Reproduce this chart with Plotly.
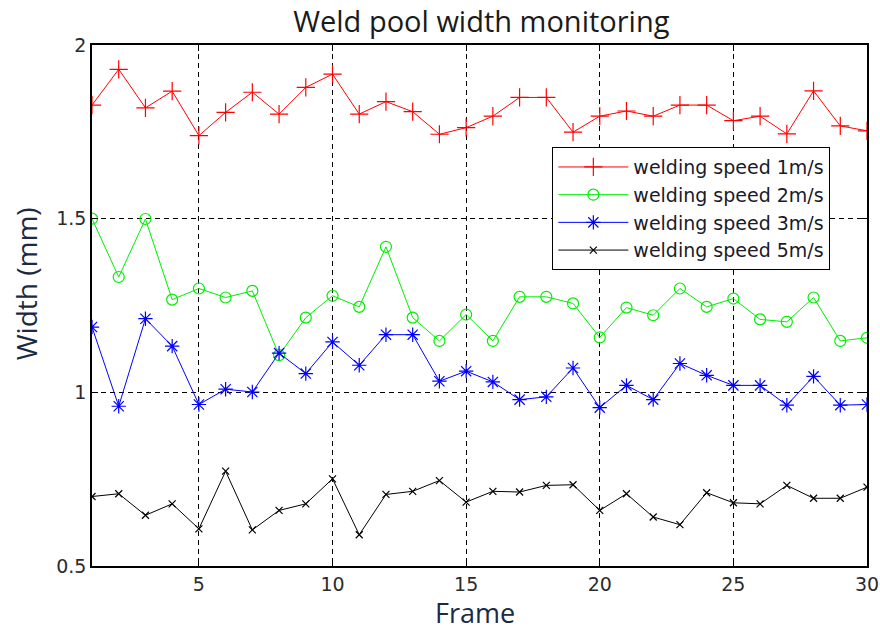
import plotly.graph_objects as go

frames = list(range(1, 31))
speed_1 = [1.827, 1.930, 1.819, 1.867, 1.739, 1.806, 1.864, 1.801, 1.878, 1.916,
           1.801, 1.837, 1.808, 1.743, 1.762, 1.795, 1.849, 1.849, 1.749, 1.795,
           1.810, 1.795, 1.827, 1.827, 1.782, 1.795, 1.744, 1.868, 1.767, 1.753]
speed_2 = [1.500, 1.332, 1.499, 1.267, 1.299, 1.273, 1.292, 1.107, 1.215, 1.278,
           1.246, 1.419, 1.215, 1.148, 1.224, 1.148, 1.275, 1.275, 1.256, 1.158,
           1.244, 1.222, 1.299, 1.246, 1.270, 1.210, 1.203, 1.273, 1.148, 1.157]
speed_3 = [1.188, 0.960, 1.212, 1.133, 0.965, 1.009, 1.001, 1.113, 1.054, 1.145,
           1.078, 1.166, 1.166, 1.032, 1.061, 1.030, 0.979, 0.987, 1.070, 0.956,
           1.020, 0.979, 1.083, 1.049, 1.020, 1.020, 0.963, 1.046, 0.963, 0.965]
speed_5 = [0.700, 0.708, 0.646, 0.679, 0.607, 0.773, 0.604, 0.660, 0.679, 0.751,
           0.590, 0.706, 0.715, 0.746, 0.684, 0.715, 0.713, 0.732, 0.734, 0.660,
           0.708, 0.641, 0.619, 0.711, 0.682, 0.679, 0.732, 0.695, 0.695, 0.727]
names = ["welding speed 1m/s", "welding speed 2m/s", "welding speed 3m/s", "welding speed 5m/s"]
x_ticks = [5, 10, 15, 20, 25, 30]
y_ticks = [0.5, 1, 1.5, 2]

series = [
    (speed_1, "#ff0000", "cross-thin-open", 13),
    (speed_2, "#00ee00", "circle-open", 11),
    (speed_3, "#0000ff", "asterisk-open", 12),
    (speed_5, "#000000", "x-thin-open", 7),
]

fig = go.Figure()
for (vals, color, sym, size), name in zip(series, names):
    fig.add_trace(go.Scatter(
        x=frames, y=vals, mode="lines+markers", name=name,
        line=dict(color=color, width=1),
        marker=dict(symbol=sym, size=size, color=color,
                    line=dict(color=color, width=1.2)),
    ))

fig.update_layout(
    width=880, height=632,
    margin=dict(l=92, r=13, t=45, b=66),
    paper_bgcolor="white", plot_bgcolor="white",
    title=dict(text="Weld pool width monitoring", x=0.547, xanchor="center",
               y=0.965, yanchor="middle",
               font=dict(family="Open Sans", size=29, color="#1a1a1a")),
    showlegend=True,
    legend=dict(x=0.594, y=0.804, xanchor="left", yanchor="top",
                bgcolor="white", bordercolor="black", borderwidth=1,
                font=dict(family="DejaVu Sans", size=19, color="#1a1a2a"),
                itemwidth=70, tracegroupgap=0),
    font=dict(family="DejaVu Sans"),
    annotations=[
        dict(text="Frame", xref="paper", yref="paper", x=0.494, y=-0.089,
             xanchor="center", yanchor="middle", showarrow=False,
             font=dict(family="Open Sans", size=27, color="#1a2a44")),
        dict(text="Width (mm)", xref="paper", yref="paper", x=-0.085, y=0.541,
             xanchor="center", yanchor="middle", showarrow=False, textangle=-90,
             font=dict(family="Open Sans", size=28, color="#1a2a44")),
    ],
)
fig.update_xaxes(
    range=[1, 30], tickvals=x_ticks, ticks="inside", ticklen=6,
    tickcolor="black", showline=True, linecolor="black", linewidth=1.5, mirror="ticks",
    showgrid=True, gridcolor="black", griddash="5px,4px", gridwidth=1,
    zeroline=False, automargin=False,
    tickfont=dict(family="DejaVu Sans", size=19, color="#2b2b2b"),
)
fig.update_yaxes(
    range=[0.5, 2], tickvals=y_ticks, ticktext=["0.5", "1", "1.5", "2"],
    ticks="inside", ticklen=6,
    tickcolor="black", showline=True, linecolor="black", linewidth=1.5, mirror="ticks",
    showgrid=True, gridcolor="black", griddash="5px,4px", gridwidth=1,
    zeroline=False, automargin=False,
    tickfont=dict(family="DejaVu Sans", size=19, color="#2b2b2b"),
)
fig.write_html("out.html")
